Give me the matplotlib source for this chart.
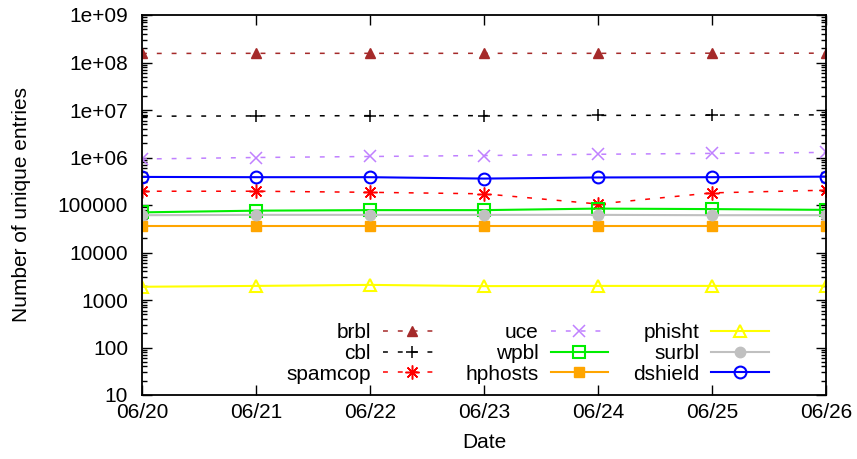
import matplotlib.pyplot as plt

plt.rcParams['font.family'] = ['Liberation Sans', 'DejaVu Sans']

# Исходные данные
dates = ['06/20', '06/21', '06/22', '06/23', '06/24', '06/25', '06/26']
brbl = [1.55e8, 1.56e8, 1.56e8, 1.56e8, 1.56e8, 1.57e8, 1.57e8]
cbl = [7.4e6, 7.5e6, 7.6e6, 7.6e6, 7.7e6, 7.8e6, 7.9e6]
spamcop = [1.95e5, 1.95e5, 1.85e5, 1.72e5, 1.05e5, 1.8e5, 2.05e5]
uce = [9.3e5, 1.0e6, 1.05e6, 1.1e6, 1.17e6, 1.22e6, 1.28e6]
wpbl = [7.0e4, 7.6e4, 7.8e4, 7.8e4, 8.4e4, 8.2e4, 7.9e4]
hphosts = [3.7e4, 3.7e4, 3.7e4, 3.7e4, 3.7e4, 3.7e4, 3.7e4]
phisht = [1900, 1980, 2080, 1960, 1980, 1980, 1990]
surbl = [6.1e4, 6.2e4, 6.2e4, 6.2e4, 6.2e4, 6.1e4, 6.1e4]
dshield = [3.9e5, 3.85e5, 3.85e5, 3.6e5, 3.8e5, 3.85e5, 3.95e5]

x = list(range(len(dates)))
dash = (0, (3.2, 6.5))
fs = 15

fig = plt.figure(figsize=(8.57, 4.59), dpi=100)
ax = fig.add_axes([142 / 857, 1 - 395 / 459, 684 / 857, 380 / 459])

ax.plot(x, brbl, color='#a52a2a', ls=dash, lw=1.1, marker='^', ms=7.5, mec='#a52a2a', label='brbl')
ax.plot(x, cbl, color='black', ls=dash, lw=1.1, marker='+', ms=9, mew=1.1, label='cbl')
ax.plot(x, spamcop, color='#ff0000', ls=dash, lw=1.1, marker=(8, 2, 0), ms=10, mew=1.1, label='spamcop')
ax.plot(x, uce, color='#c080ff', ls=dash, lw=1.1, marker='x', ms=8, mew=1.1, label='uce')
ax.plot(x, wpbl, color='#00ee00', lw=1.5, marker='s', ms=8.5, mfc='none', mew=1.5, label='wpbl')
ax.plot(x, hphosts, color='#ffa500', lw=1.5, marker='s', ms=7.5, label='hphosts')
ax.plot(x, phisht, color='#ffff00', lw=1.5, marker='^', ms=8.5, mfc='none', mew=1.5, label='phisht')
ax.plot(x, surbl, color='#c0c0c0', lw=1.5, marker='o', ms=7.5, label='surbl')
ax.plot(x, dshield, color='#0000ff', lw=1.5, marker='o', ms=8.5, mfc='none', mew=1.5, label='dshield')

ax.set_yscale('log')
ax.set_ylim(10, 1e9)
ax.set_xlim(0, 6)
ax.set_xticks(x)
ax.set_xticklabels(dates)
yt = [10, 100, 1000, 10000, 100000, 1e6, 1e7, 1e8, 1e9]
ax.set_yticks(yt)
ax.set_yticklabels(['10', '100', '1000', '10000', '100000', '1e+06', '1e+07', '1e+08', '1e+09'])
ax.tick_params(which='both', direction='in', top=True, right=True, labelsize=fs, width=1)
ax.tick_params(which='major', length=7)
ax.tick_params(which='minor', length=3.5)
ax.tick_params(axis='x', which='minor', top=False, bottom=False)
ax.tick_params(axis='x', pad=6)
ax.tick_params(axis='y', pad=10)
for s in ax.spines.values():
    s.set_linewidth(1.3)

ax.set_xlabel('Date', fontsize=fs, labelpad=8)
ax.set_ylabel('Number of unique entries', fontsize=fs, labelpad=19)

ax.legend(ncol=3, frameon=False, markerfirst=False, numpoints=1, fontsize=fs,
          handlelength=2.75, handletextpad=0.58, columnspacing=1.2, labelspacing=0.08,
          borderpad=0, loc='lower right',
          bbox_to_anchor=(779 / 857, 1 - 394 / 459), bbox_transform=fig.transFigure)

plt.savefig('out.png', dpi=100)
